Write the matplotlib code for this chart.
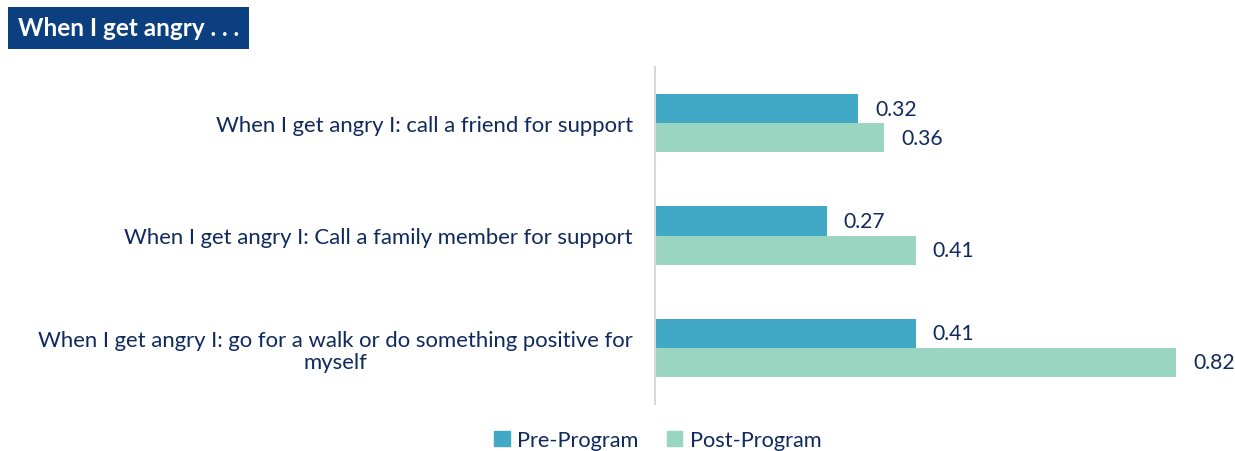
import numpy as np
import matplotlib.pyplot as plt
from matplotlib.patches import Patch

plt.rcParams['font.family'] = ['Lato', 'DejaVu Sans']

categories = [
    "When I get angry I: call a friend for support",
    "When I get angry I: Call a family member for support",
    "When I get angry I: go for a walk or do something positive for\nmyself",
]
pre_program = [0.32, 0.27, 0.41]
post_program = [0.36, 0.41, 0.82]
series_names = ["Pre-Program", "Post-Program"]

pre_color = "#41A8C6"
post_color = "#99D5C1"
text_color = "#102A5E"

fig = plt.figure(figsize=(12.35, 4.52), dpi=100)
ax = fig.add_axes([655 / 1235, 1 - 405 / 452, 1 - 655 / 1235 - 0.004, 337 / 452])

y = np.arange(len(categories))
h = 0.26
ax.barh(y - h / 2, pre_program, height=h, color=pre_color)
ax.barh(y + h / 2, post_program, height=h, color=post_color)

for yi, v in zip(y, pre_program):
    ax.text(v + 0.027, yi - h / 2, f"{v:.2f}", va="center", ha="left",
            fontsize=15.2, color=text_color)
for yi, v in zip(y, post_program):
    ax.text(v + 0.027, yi + h / 2, f"{v:.2f}", va="center", ha="left",
            fontsize=15.2, color=text_color)

ax.set_ylim(2.5, -0.5)
ax.set_xlim(0, 575 / 635.4)
ax.set_yticks(y)
ax.set_yticklabels(categories, fontsize=15.9, color=text_color, ha="right",
                   multialignment="center", linespacing=1.15)
ax.tick_params(axis="y", length=0, pad=16)
ax.set_xticks([])
for s in ["top", "right", "bottom"]:
    ax.spines[s].set_visible(False)
ax.spines["left"].set_color("#D9D9D9")
ax.spines["left"].set_linewidth(1.5)

fig.text(18 / 1235, 1 - 29 / 452, "When I get angry . . .", fontsize=17.5,
         fontweight="bold", color="white", va="center", ha="left",
         bbox=dict(boxstyle="square,pad=0.4", facecolor="#0B3F7F",
                   edgecolor="none"))

handles = [Patch(color=pre_color), Patch(color=post_color)]
fig.legend(handles, series_names, loc="center", bbox_to_anchor=(658 / 1235, 1 - 441 / 452),
           ncol=2, frameon=False, fontsize=15.7, handlelength=0.7, handleheight=0.7,
           handletextpad=0.35, columnspacing=1.3, labelcolor=text_color)

fig.savefig("out.png", dpi=100)
